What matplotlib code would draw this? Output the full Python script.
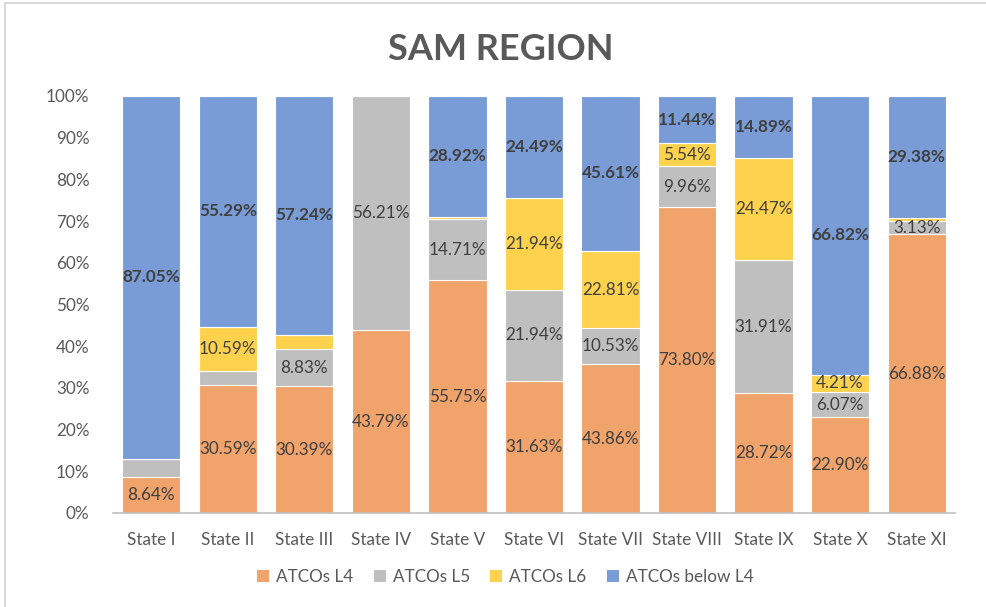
import matplotlib.pyplot as plt
from matplotlib.lines import Line2D
from matplotlib.patches import Patch
import numpy as np

states = ["State I", "State II", "State III", "State IV", "State V", "State VI",
          "State VII", "State VIII", "State IX", "State X", "State XI"]
atcos_l4 = [8.64, 30.59, 30.39, 43.79, 55.75, 31.63, 43.86, 73.80, 28.72, 22.90, 66.88]
atcos_l5 = [4.31, 3.53, 8.83, 56.21, 14.71, 21.94, 10.53, 9.96, 31.91, 6.07, 3.13]
atcos_l6 = [0.00, 10.59, 3.54, 0.00, 0.62, 21.94, 22.81, 5.54, 24.47, 4.21, 0.61]
atcos_below = [87.05, 55.29, 57.24, 0.00, 28.92, 24.49, 45.61, 11.44, 14.89, 66.82, 29.38]
series_names = ["ATCOs L4", "ATCOs L5", "ATCOs L6", "ATCOs below L4"]
# segments without a data label in the original (series index, state index)
no_label = [(1, 0), (1, 1), (2, 2), (2, 4), (2, 10)]

colors = ["#F1A36C", "#BFBFBF", "#FFD24D", "#7A9CD6"]

plt.rcParams['font.family'] = ['Lato', 'DejaVu Sans']

data = np.array([atcos_l4, atcos_l5, atcos_l6, atcos_below])
pct = data / data.sum(axis=0) * 100

fig = plt.figure(figsize=(9.87, 6.07), dpi=100)
ax = fig.add_axes([0.1145, 0.1549, 0.853, 0.687])

x = np.arange(len(states))
bottom = np.zeros(len(states))
for k in range(4):
    ax.bar(x, pct[k], 0.76, bottom=bottom, color=colors[k],
           edgecolor='white', linewidth=0.8, label=series_names[k], zorder=2)
    for i in range(len(states)):
        if data[k, i] <= 0 or (k, i) in no_label:
            continue
        ax.text(x[i], bottom[i] + pct[k, i] / 2, f"{data[k, i]:.2f}%",
                ha='center', va='center', fontsize=12.3, color='#404040',
                fontweight='bold' if k == 3 else 'normal', zorder=3)
    bottom += pct[k]

ax.set_xlim(-0.5, len(states) - 0.5)
ax.set_ylim(0, 100)
ax.set_yticks(np.arange(0, 101, 10))
ax.set_yticklabels([f"{v}%" for v in range(0, 101, 10)])
ax.set_xticks(x)
ax.set_xticklabels(states)
ax.tick_params(length=0, labelsize=12.3, labelcolor='#595959')
ax.tick_params(axis='y', pad=17)
ax.tick_params(axis='x', pad=14)
for s in ['top', 'right', 'left']:
    ax.spines[s].set_visible(False)
ax.spines['bottom'].set_color('#BFBFBF')
ax.spines['bottom'].set_linewidth(1.2)

fig.text(0.507, 0.919, "SAM REGION", ha='center', va='center',
         fontsize=26, fontweight='bold', color='#595959')

handles = [Patch(facecolor=c, edgecolor='none') for c in colors]
fig.legend(handles, series_names, loc='center', bbox_to_anchor=(0.512, 0.049),
           ncol=4, frameon=False, fontsize=12.3, labelcolor='#595959',
           handlelength=0.7, handleheight=0.7, handletextpad=0.4, columnspacing=1.2)

# chart frame
fig.add_artist(Line2D([0.005, 0.005], [0, 0.995], color='#D9D9D9', lw=1.5))
fig.add_artist(Line2D([0.005, 1], [0.995, 0.995], color='#D9D9D9', lw=1.5))

plt.savefig('out.png', dpi=100)
plt.close()
